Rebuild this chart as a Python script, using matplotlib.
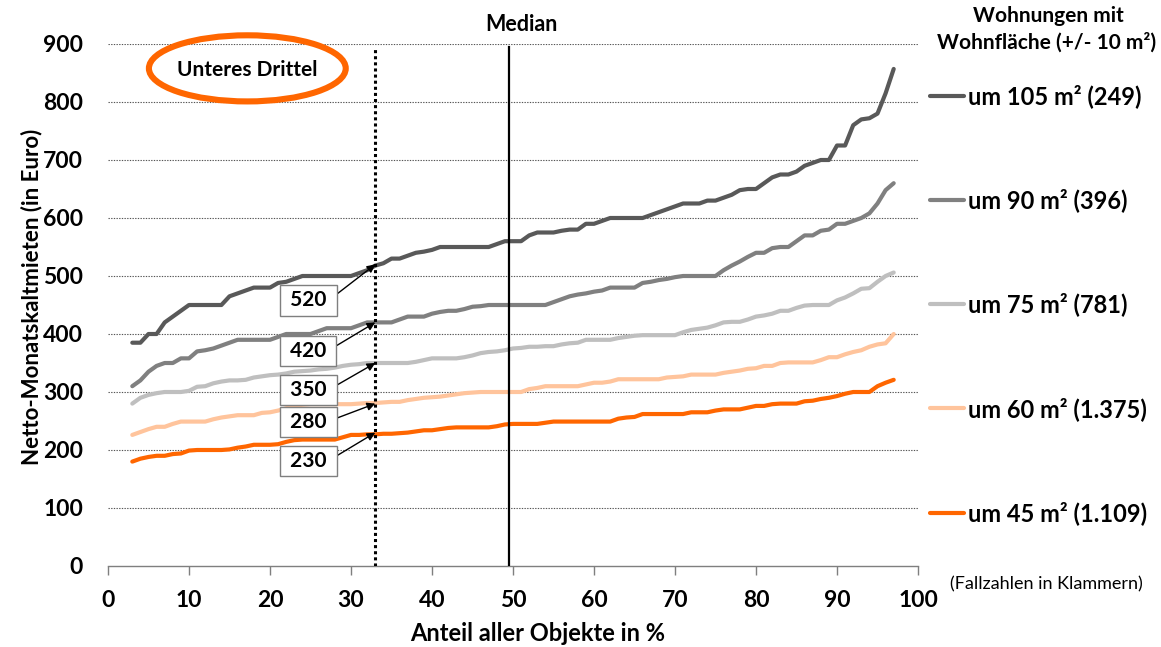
import matplotlib
matplotlib.use("Agg")
import matplotlib.pyplot as plt
from matplotlib.patches import Ellipse

plt.rcParams['font.family'] = ['Lato', 'DejaVu Sans']

# ---------------- data ----------------
anteil = list(range(3, 98))  # Anteil aller Objekte in % (3 ... 97)

miete_105 = [385, 385, 400, 400, 420, 430, 440, 450, 450, 450,
             450, 450, 465, 470, 475, 480, 480, 480, 488, 490,
             495, 500, 500, 500, 500, 500, 500, 500, 505, 510,
             518, 522, 530, 530, 535, 540, 542, 545, 550, 550,
             550, 550, 550, 550, 550, 555, 560, 560, 560, 570,
             575, 575, 575, 578, 580, 580, 590, 590, 595, 600,
             600, 600, 600, 600, 605, 610, 615, 620, 625, 625,
             625, 630, 630, 635, 640, 648, 650, 650, 660, 670,
             675, 675, 680, 690, 695, 700, 700, 725, 725, 760,
             770, 772, 780, 815, 857]

miete_90 = [310, 320, 335, 345, 350, 350, 358, 358, 370, 372,
            375, 380, 385, 390, 390, 390, 390, 390, 395, 400,
            400, 400, 400, 405, 410, 410, 410, 410, 415, 420,
            420, 420, 420, 425, 430, 430, 430, 435, 438, 440,
            440, 443, 447, 448, 450, 450, 450, 450, 450, 450,
            450, 450, 455, 460, 465, 468, 470, 473, 475, 480,
            480, 480, 480, 488, 490, 493, 495, 498, 500, 500,
            500, 500, 500, 510, 518, 525, 533, 540, 540, 548,
            550, 550, 560, 570, 570, 578, 580, 590, 590, 595,
            600, 608, 625, 648, 660]

miete_75 = [280, 290, 295, 298, 300, 300, 300, 302, 309, 310,
            315, 318, 320, 320, 321, 325, 327, 329, 330, 332,
            335, 336, 337, 339, 340, 342, 345, 347, 348, 350,
            350, 350, 350, 350, 350, 352, 355, 358, 358, 358,
            358, 360, 363, 367, 369, 370, 372, 375, 376, 378,
            378, 379, 379, 382, 384, 385, 390, 390, 390, 390,
            393, 395, 397, 398, 398, 398, 398, 398, 403, 407,
            409, 411, 415, 420, 421, 421, 425, 430, 432, 435,
            440, 440, 445, 449, 450, 450, 450, 458, 463, 470,
            478, 479, 490, 500, 506]

miete_60 = [226, 231, 236, 240, 240, 245, 249, 249, 249, 249,
            253, 256, 258, 260, 260, 260, 264, 265, 268, 272,
            275, 278, 279, 279, 279, 279, 279, 279, 280, 281,
            281, 282, 283, 283, 286, 288, 290, 291, 292, 294,
            296, 298, 299, 300, 300, 300, 300, 300, 300, 305,
            307, 310, 310, 310, 310, 310, 313, 316, 316, 318,
            322, 322, 322, 322, 322, 322, 325, 326, 327, 330,
            330, 330, 330, 333, 335, 337, 340, 341, 345, 345,
            350, 351, 351, 351, 351, 355, 360, 360, 365, 369,
            372, 378, 382, 384, 400]

miete_45 = [180, 185, 188, 190, 190, 193, 194, 199, 200, 200,
            200, 200, 201, 204, 206, 209, 209, 209, 210, 214,
            217, 218, 218, 218, 218, 218, 222, 226, 226, 227,
            227, 228, 228, 229, 230, 232, 234, 234, 236, 238,
            239, 239, 239, 239, 239, 241, 244, 245, 245, 245,
            245, 247, 249, 249, 249, 249, 249, 249, 249, 249,
            254, 256, 257, 262, 262, 262, 262, 262, 262, 265,
            265, 265, 268, 270, 270, 270, 273, 276, 276, 279,
            280, 280, 280, 284, 285, 288, 290, 293, 297, 300,
            300, 300, 310, 316, 321]

serien_labels = ["um 105 m² (249)", "um 90 m² (396)", "um 75 m² (781)",
                 "um 60 m² (1.375)", "um 45 m² (1.109)"]
serien_werte = [miete_105, miete_90, miete_75, miete_60, miete_45]
serien_farben = ["#595959", "#808080", "#bfbfbf", "#ffc49c", "#ff6600"]

unteres_drittel = 33
median_anteil = 49.5
werte_drittel = [520, 420, 350, 280, 230]
box_y = [458, 371, 303, 248, 181]

# ---------------- figure ----------------
W, H = 1161, 647
fig = plt.figure(figsize=(W / 100, H / 100), dpi=100)
ax = fig.add_axes([108 / W, 1 - 566 / H, 810 / W, 522 / H])

lines = []
for werte, lab, col in zip(serien_werte, serien_labels, serien_farben):
    ln, = ax.plot(anteil, werte, color=col, lw=3.0, label=lab,
                  solid_capstyle='round', solid_joinstyle='round', zorder=3)
    lines.append(ln)

ax.set_xlim(0, 100)
ax.set_ylim(0, 900)
ax.set_xticks(range(0, 101, 10))
ax.set_yticks(range(0, 901, 100))

for v in range(100, 901, 100):
    ax.axhline(v, color="#555555", lw=0.8, ls=(0, (1.2, 1.2)), zorder=1)

for s in ['top', 'right', 'left']:
    ax.spines[s].set_visible(False)
ax.spines['bottom'].set_color("#7f7f7f")
ax.spines['bottom'].set_linewidth(1.0)

ax.tick_params(axis='x', direction='out', length=6.5, width=1.0,
               color="#7f7f7f", pad=11, labelsize=16.5)
ax.tick_params(axis='y', length=0, pad=18, labelsize=16.5)
for t in ax.get_xticklabels() + ax.get_yticklabels():
    t.set_fontweight('bold')

ax.set_xlabel("Anteil aller Objekte in %", fontsize=17, fontweight='bold')
ax.xaxis.label.set_va('center')
ax.xaxis.set_label_coords(0.530, -0.130)
ax.set_ylabel("Netto-Monatskaltmieten (in Euro)", fontsize=16, fontweight='bold')
ax.yaxis.label.set_va('center')
ax.yaxis.set_label_coords(-0.095, 0.515)

# reference lines
ax.axvline(unteres_drittel, ymin=0, ymax=0.99, color='black', lw=2.2,
           ls=(0, (1, 1)), zorder=4)
ax.axvline(median_anteil, ymin=0, ymax=0.995, color='black', lw=1.6, zorder=4)
ax.text(51, 933, "Median", ha='center', va='center', fontsize=15.5,
        fontweight='bold', clip_on=False)

# ellipse "Unteres Drittel"
ax.add_patch(Ellipse((17.2, 858), 24.3, 114, fill=False, edgecolor="#ff6600",
                     lw=4.4, clip_on=False, zorder=5))
ax.text(17.2, 855, "Unteres Drittel", ha='center', va='center', fontsize=15,
        fontweight='bold', zorder=6)

# annotations
for wert, by in zip(werte_drittel, box_y):
    ax.annotate(f" {wert} ", xy=(unteres_drittel, wert), xytext=(24.7, by),
                ha='center', va='center', fontsize=15, fontweight='bold',
                bbox=dict(boxstyle='square,pad=0.25', fc='white', ec='#7f7f7f', lw=1.0),
                arrowprops=dict(arrowstyle='-|>', color='black', lw=1.0,
                                mutation_scale=12, shrinkA=0, shrinkB=0,
                                relpos=(1.0, 0.6)),
                zorder=7)

# legend
leg = fig.legend(handles=lines, loc='upper left',
                 bbox_to_anchor=(930 / W, 1 - 84 / H), frameon=False,
                 prop=dict(family=['Lato', 'DejaVu Sans'], weight='bold', size=17),
                 handlelength=1.45, handletextpad=0.18, labelspacing=3.4,
                 borderpad=0, borderaxespad=0)

fig.text(1048 / W, 1 - 16 / H, "Wohnungen mit", ha='center', va='center',
         fontsize=15, fontweight='bold')
fig.text(1047 / W, 1 - 42 / H, "Wohnfläche (+/- 10 m²)", ha='center', va='center',
         fontsize=15, fontweight='bold')
fig.text(1046 / W, 1 - 584 / H, "(Fallzahlen in Klammern)", ha='center', va='center',
         fontsize=13)

fig.savefig("out.png", dpi=100)
